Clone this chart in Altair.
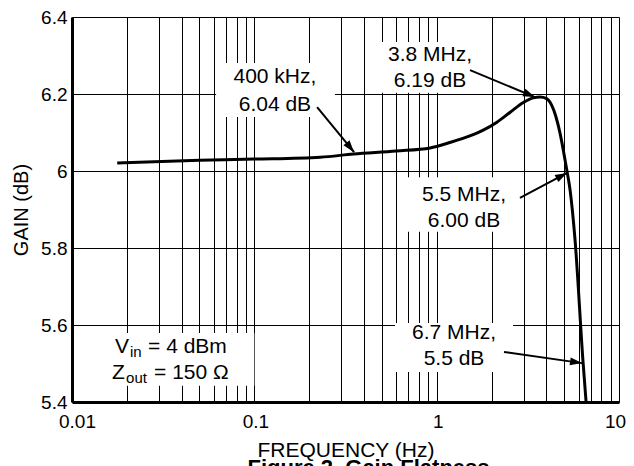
import math
import altair as alt
import pandas as pd

# ---- data ----
freq = [0.0177, 0.05, 0.1, 0.23, 0.35, 0.6, 0.92, 1.18, 1.52, 1.8, 2.13, 2.52, 2.99,
        3.39, 3.69, 4.01, 4.27, 4.51, 4.75, 4.95, 5.17, 5.39, 5.74, 6.35, 6.6]
gain = [6.021, 6.028, 6.031, 6.036, 6.044, 6.052, 6.060, 6.074, 6.091, 6.106, 6.126, 6.152, 6.178,
        6.190, 6.192, 6.188, 6.171, 6.141, 6.098, 6.054, 6.003, 5.951, 5.821, 5.504, 5.4]

x_grid = [round(a * 10 ** k, 4) for k in (-2, -1, 0) for a in range(1, 10)] + [10]
y_grid = [round(5.4 + 0.1 * i, 1) for i in range(11)]

# annotation boxes (data coordinates)
box_x1 = [0.0617, 0.448, 0.653, 0.591, 0.01255]
box_x2 = [0.2767, 1.961, 2.976, 2.623, 0.1]
box_y1 = [6.1403, 6.203, 5.842, 5.478, 5.442]
box_y2 = [6.2805, 6.335, 5.984, 5.605, 5.579]

# annotation text lines
ann_text = ["400 kHz,", "6.04 dB", "3.8 MHz,", "6.19 dB", "5.5 MHz,", "6.00 dB", "6.7 MHz,", "5.5 dB"]
ann_x = [0.1297, 0.1297, 0.919, 0.919, 1.413, 1.413, 1.245, 1.245]
ann_y = [6.244, 6.171, 6.301, 6.234, 5.938, 5.870, 5.579, 5.512]

# arrows: from (x1, y1) to tip (x2, y2)
arr_x1 = [0.2209, 1.524, 2.864, 2.34]
arr_y1 = [6.166, 6.262, 5.930, 5.530]
arr_x2 = [0.3524, 3.46, 5.19, 6.27]
arr_y2 = [6.049, 6.192, 5.995, 5.501]

# conditions block text pieces
cond_text = ["V", "in", "= 4 dBm", "Z", "out", "= 150 Ω"]
cond_line = [5.543, 5.543, 5.543, 5.475, 5.475, 5.475]
cond_x = 0.01722

W, H = 547, 385
FONT = "Liberation Sans"
XMIN, XMAX, YMIN, YMAX = 0.01, 10, 5.4, 6.4

xs = alt.Scale(type="log", domain=[XMIN, XMAX], nice=False)
ys = alt.Scale(domain=[YMIN, YMAX], nice=False, zero=False)

curve_df = pd.DataFrame({"f": freq, "g": gain})
box_df = pd.DataFrame({"x1": box_x1, "x2": box_x2, "y1": box_y1, "y2": box_y2})
ann_df = pd.DataFrame({"x": ann_x, "y": ann_y, "t": ann_text})

px_dec = W / (math.log10(XMAX) - math.log10(XMIN))
px_db = H / (YMAX - YMIN)
angles = []
for a, b, c, d in zip(arr_x1, arr_y1, arr_x2, arr_y2):
    dx = px_dec * (math.log10(c) - math.log10(a))
    dy = -px_db * (d - b)
    angles.append(math.degrees(math.atan2(dx, -dy)) % 360)
arr_df = pd.DataFrame({"x1": arr_x1, "y1": arr_y1, "x2": arr_x2, "y2": arr_y2, "ang": angles})

x_axis = alt.Axis(values=x_grid, grid=True, gridColor="black", gridOpacity=1, gridWidth=1,
                  ticks=False, domainColor="black", domainWidth=3, labelFlush=False,
                  labelOffset={"expr": "datum.value <= 0.01 ? 5 : (datum.value >= 10 ? -4 : 1)"},
                  labelExpr="abs(log(datum.value)/LN10 - round(log(datum.value)/LN10)) < 1e-6 ? datum.label : ''",
                  format="~g", labelOverlap=False, labelFont=FONT, labelFontSize=19, labelColor="black",
                  labelPadding=10, title="FREQUENCY (Hz)", titleFont=FONT, titleFontSize=21,
                  titleFontWeight="normal", titleColor="black", titlePadding=8)
y_axis = alt.Axis(values=y_grid, grid=True, gridColor="black", gridOpacity=1, gridWidth=1,
                  ticks=False, domainColor="black", domainWidth=3, labelFlush=False,
                  labelExpr="round(datum.value*10) % 2 == 0 ? datum.label : ''",
                  format="~g", labelOverlap=False, labelFont=FONT, labelFontSize=19, labelColor="black",
                  labelPadding=5, title="GAIN (dB)", titleFont=FONT, titleFontSize=20,
                  titleFontWeight="normal", titleColor="black", titlePadding=9)

base_curve = alt.Chart(curve_df).mark_line(color="black", strokeWidth=3, interpolate="monotone").encode(
    x=alt.X("f:Q", scale=xs, axis=x_axis),
    y=alt.Y("g:Q", scale=ys, axis=y_axis),
)

boxes = alt.Chart(box_df).mark_rect(color="white").encode(
    x=alt.X("x1:Q", scale=xs), x2="x2:Q", y=alt.Y("y1:Q", scale=ys), y2="y2:Q")

texts = alt.Chart(ann_df).mark_text(font=FONT, fontSize=21, color="black", baseline="middle").encode(
    x=alt.X("x:Q", scale=xs), y=alt.Y("y:Q", scale=ys), text="t:N")

lines = alt.Chart(arr_df).mark_rule(color="black", strokeWidth=2).encode(
    x=alt.X("x1:Q", scale=xs), y=alt.Y("y1:Q", scale=ys), x2="x2:Q", y2="y2:Q")

heads = alt.Chart(arr_df).mark_point(shape="M0,0 L-0.33,1 L0.33,1 Z", filled=True, color="black",
                                     opacity=1, size=576).encode(
    x=alt.X("x2:Q", scale=xs), y=alt.Y("y2:Q", scale=ys), angle=alt.Angle("ang:Q", scale=None))

cond_df = pd.DataFrame({"x": [cond_x] * 6, "y": cond_line, "t": cond_text})
cond_layers = []
cond_dx = [0, 15, 33, -3, 11, 39]
cond_dy = [0, 5, 0, 0, 5, 0]
cond_size = [21, 15, 21, 21, 15, 21]
for i in range(6):
    cond_layers.append(
        alt.Chart(cond_df.iloc[[i]]).mark_text(font=FONT, fontSize=cond_size[i], color="black",
                                               align="left", baseline="middle",
                                               dx=cond_dx[i], dy=cond_dy[i]).encode(
            x=alt.X("x:Q", scale=xs), y=alt.Y("y:Q", scale=ys), text="t:N"))

chart = alt.layer(base_curve, boxes, texts, lines, heads, *cond_layers).properties(
    width=W, height=H,
    autosize=alt.AutoSizeParams(type="none"),
    padding={"left": 64, "top": 9, "right": 7, "bottom": 100},
    title=alt.TitleParams("Figure 2. Gain Flatness", orient="bottom", anchor="middle", dx=23,
                          font=FONT, fontSize=22, fontWeight="bold", color="black", offset=-2),
).configure_view(stroke="black", strokeWidth=1).configure(background="white")

chart.save("out.html", embed_options={"renderer": "svg", "actions": False})
